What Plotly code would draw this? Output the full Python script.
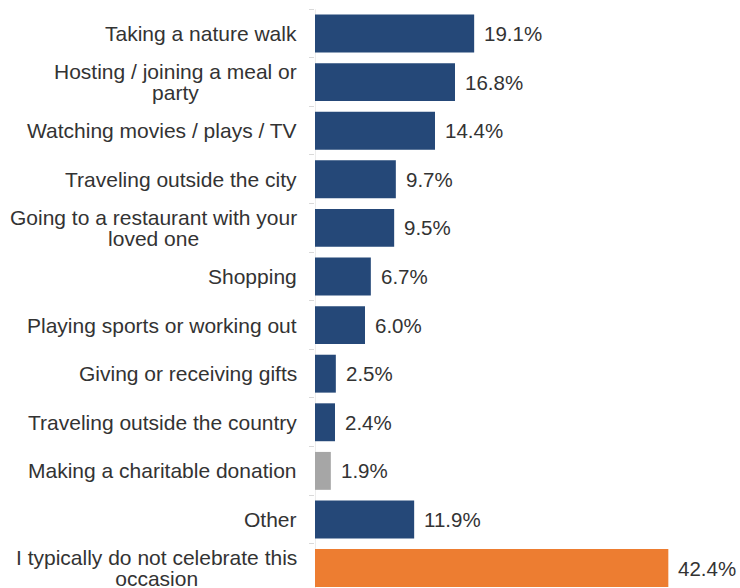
import plotly.graph_objects as go

# Survey answers, top to bottom, with the share of respondents for each
categories = [
    "Taking a nature walk",
    "Hosting / joining a meal or<br>party",
    "Watching movies / plays / TV",
    "Traveling outside the city",
    "Going to a restaurant with your<br>loved one",
    "Shopping",
    "Playing sports or working out",
    "Giving or receiving gifts",
    "Traveling outside the country",
    "Making a charitable donation",
    "Other",
    "I typically do not celebrate this<br>occasion",
]
values = [19.1, 16.8, 14.4, 9.7, 9.5, 6.7, 6.0, 2.5, 2.4, 1.9, 11.9, 42.4]
value_labels = ["19.1%", "16.8%", "14.4%", "9.7%", "9.5%", "6.7%",
                "6.0%", "2.5%", "2.4%", "1.9%", "11.9%", "42.4%"]

NAVY = "#254878"
GREY = "#A6A6A6"
ORANGE = "#ED7D31"
TEXT = "#333333"
AXIS = "#D9D9D9"
FONT = "Liberation Sans, Arial, sans-serif"
CAT_GLYPH = 21     # rendered glyph size of category labels
VAL_GLYPH = 20.5   # value labels
LINE_BASE = 15.8   # base size that sets the spacing between wrapped lines

special = {
    "Making a charitable donation": GREY,
    "I typically do not celebrate this<br>occasion": ORANGE,
}
bar_colors = [special.get(c, NAVY) for c in categories]
idx = list(range(len(categories)))

fig = go.Figure(
    go.Bar(
        x=values,
        y=idx,
        orientation="h",
        marker=dict(color=bar_colors, line=dict(width=0)),
        width=0.78,
        hoverinfo="skip",
    )
)

annotations = []
for i, (cat, val, lab) in enumerate(zip(categories, values, value_labels)):
    # category label: lines centred within a right-aligned block,
    # tight line spacing from a small base font with larger glyph spans
    lines = cat.split("<br>")
    txt = "<br>".join(
        f"<span style='font-size:{CAT_GLYPH}px'>{ln}</span>" for ln in lines
    )
    annotations.append(dict(
        x=0, y=i, xref="x", yref="y", text=txt, showarrow=False,
        xanchor="right", yanchor="middle", align="center", xshift=-16,
        font=dict(family=FONT, size=LINE_BASE, color=TEXT),
    ))
    # value label to the right of each bar
    annotations.append(dict(
        x=val, y=i, xref="x", yref="y", text=lab, showarrow=False,
        xanchor="left", yanchor="middle", xshift=8,
        font=dict(family=FONT, size=VAL_GLYPH, color=TEXT),
    ))

fig.update_layout(
    width=740,
    height=588,
    margin=dict(l=315, r=0, t=0, b=0),
    plot_bgcolor="white",
    paper_bgcolor="white",
    showlegend=False,
    annotations=annotations,
    shapes=[dict(
        type="line", xref="x", yref="y", x0=0, x1=0, y0=-0.5, y1=11.5,
        line=dict(color=AXIS, width=1), layer="below",
    )],
    xaxis=dict(range=[0, 51.0], visible=False, fixedrange=True),
    yaxis=dict(
        range=[11.41, -0.689],
        tickmode="array",
        tickvals=[i - 0.5 for i in range(len(categories) + 1)],
        ticktext=[""] * (len(categories) + 1),
        ticks="outside",
        ticklen=5,
        tickcolor=AXIS,
        showgrid=False,
        zeroline=False,
        showline=False,
        fixedrange=True,
    ),
)

fig.write_html("out.html")
